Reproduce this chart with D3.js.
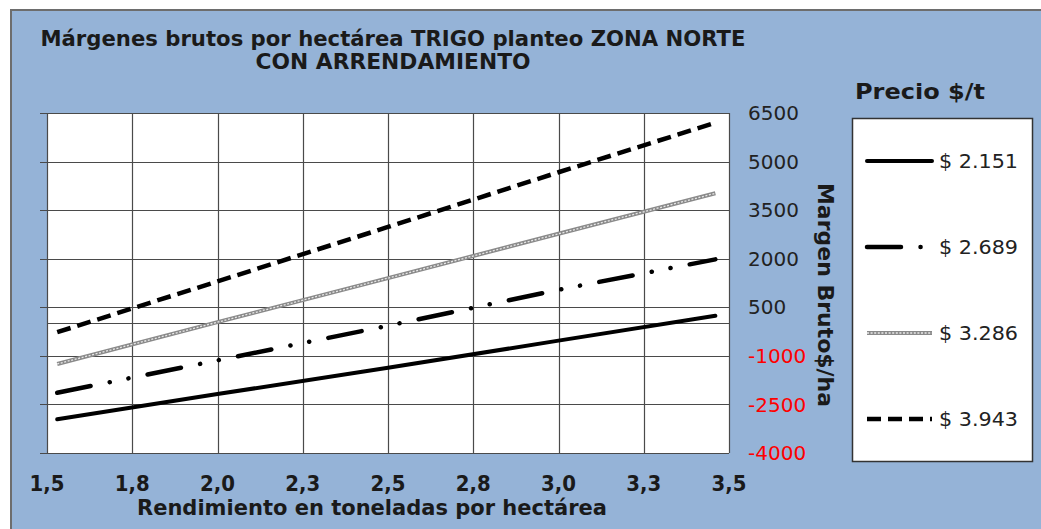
<!DOCTYPE html>
<html lang="es">
<head>
<meta charset="utf-8">
<title>Márgenes brutos TRIGO zona norte</title>
<script src="https://cdn.jsdelivr.net/npm/d3@7/dist/d3.min.js"></script>
<style>
body { margin: 0; background: #fff; }
svg { display: block; }
.bold { font-family: "DejaVu Sans", Verdana, sans-serif; font-weight: bold; fill: #1a1a1a; }
.reg { font-family: "DejaVu Sans", Verdana, sans-serif; fill: #222; }
</style>
</head>
<body>
<div id="chart"></div>
<script>

// rendimiento (t/ha) donde se leyeron los valores
var rendimiento = [1.53, 2.0, 2.5, 3.0, 3.46];

var precios = ["$ 2.151", "$ 2.689", "$ 3.286", "$ 3.943"];

var margen2151 = [-2960, -2180, -1370, -530, 240];
var margen2689 = [-2140, -1140, -70, 1040, 1980];
var margen3286 = [-1250, 40, 1400, 2770, 4020];
var margen3943 = [-270, 1300, 2980, 4670, 6200];

var yTicks = [6500, 5000, 3500, 2000, 500, -1000, -2500, -4000];
var xTicks = [1.5, 1.75, 2.0, 2.25, 2.5, 2.75, 3.0, 3.25, 3.5];
var xTickLabels = ["1,5", "1,8", "2,0", "2,3", "2,5", "2,8", "3,0", "3,3", "3,5"];

var series = [margen2151, margen2689, margen3286, margen3943];

var W = 1041, H = 529;
var plot = {left: 47, right: 729, top: 113, bottom: 453};

var svg = d3.select("#chart").append("svg")
    .attr("width", W)
    .attr("height", H);

// fondo azul con marco
svg.append("rect")
    .attr("x", 11).attr("y", 10)
    .attr("width", W - 10).attr("height", H - 9)
    .attr("fill", "#95b3d7")
    .attr("stroke", "#6d6d6d")
    .attr("stroke-width", 2);

var x = d3.scaleLinear().domain([1.5, 3.5]).range([plot.left, plot.right]);
var y = d3.scaleLinear().domain([-4000, 6500]).range([plot.bottom, plot.top]);

svg.append("rect")
    .attr("x", plot.left).attr("y", plot.top)
    .attr("width", plot.right - plot.left)
    .attr("height", plot.bottom - plot.top)
    .attr("fill", "#fff");

var grid = svg.append("g").attr("stroke", "#4a4a4a").attr("stroke-width", 1.2);

grid.selectAll(".hg")
    .data(yTicks.concat([0]))
    .enter().append("line")
        .attr("x1", function(d) { return d === 0 ? plot.left : plot.left - 7; })
        .attr("x2", plot.right)
        .attr("y1", function(d) { return Math.round(y(d)) + 0.5; })
        .attr("y2", function(d) { return Math.round(y(d)) + 0.5; });

grid.selectAll(".vg")
    .data(xTicks)
    .enter().append("line")
        .attr("x1", function(d) { return Math.round(x(d)) + 0.5; })
        .attr("x2", function(d) { return Math.round(x(d)) + 0.5; })
        .attr("y1", plot.top)
        .attr("y2", plot.bottom);

// etiquetas eje y (derecha)
svg.append("g").selectAll("text")
    .data(yTicks)
    .enter().append("text")
        .attr("class", "reg")
        .attr("x", 748)
        .attr("y", function(d) { return y(d); })
        .attr("dy", "0.36em")
        .style("font-size", "20px")
        .style("fill", function(d) { return d < 0 ? "#ff0000" : "#222"; })
        .text(function(d) { return d; });

// etiquetas eje x
svg.append("g").selectAll("text")
    .data(xTicks)
    .enter().append("text")
        .attr("class", "bold")
        .attr("x", function(d) { return x(d); })
        .attr("y", 491)
        .attr("text-anchor", "middle")
        .style("font-size", "21px")
        .attr("textLength", 35)
        .attr("lengthAdjust", "spacingAndGlyphs")
        .text(function(d, i) { return xTickLabels[i]; });

svg.append("text")
    .attr("class", "bold")
    .attr("x", 372).attr("y", 515)
    .attr("text-anchor", "middle")
    .style("font-size", "21px")
    .attr("textLength", 470)
    .attr("lengthAdjust", "spacingAndGlyphs")
    .text("Rendimiento en toneladas por hectárea");

svg.append("text")
    .attr("class", "bold")
    .attr("transform", "translate(818,295) rotate(90)")
    .attr("text-anchor", "middle")
    .style("font-size", "21px")
    .attr("textLength", 224)
    .attr("lengthAdjust", "spacingAndGlyphs")
    .text("Margen Bruto$/ha");

// titulo
var title = svg.append("text")
    .attr("class", "bold")
    .attr("text-anchor", "middle")
    .style("font-size", "21px");
title.append("tspan").attr("x", 393).attr("y", 46)
    .attr("textLength", 705)
    .attr("lengthAdjust", "spacingAndGlyphs")
    .text("Márgenes brutos por hectárea TRIGO planteo ZONA NORTE");
title.append("tspan").attr("x", 393).attr("y", 69)
    .attr("textLength", 275)
    .attr("lengthAdjust", "spacingAndGlyphs")
    .text("CON ARRENDAMIENTO");

// estilos de linea
function drawStyled(g, path, i) {
    if (i === 0) {
        g.append("path").attr("d", path).attr("fill", "none")
            .attr("stroke", "#000").attr("stroke-width", 4).attr("stroke-linecap", "round");
    } else if (i === 1) {
        g.append("path").attr("d", path).attr("fill", "none")
            .attr("stroke", "#000").attr("stroke-width", 4.5).attr("stroke-linecap", "round")
            .attr("stroke-dasharray", "34,19.5,0.1,19,0.1,19.5");
    } else if (i === 2) {
        g.append("path").attr("d", path).attr("fill", "none")
            .attr("stroke", "#8a8a8a").attr("stroke-width", 4);
        g.append("path").attr("d", path).attr("fill", "none")
            .attr("stroke", "#e8e8e8").attr("stroke-width", 1.3)
            .attr("stroke-dasharray", "2,1.6");
    } else {
        g.append("path").attr("d", path).attr("fill", "none")
            .attr("stroke", "#000").attr("stroke-width", 4.5)
            .attr("stroke-dasharray", "14,7");
    }
}

var line = d3.line()
    .x(function(d, i) { return x(rendimiento[i]); })
    .y(function(d) { return y(d); });

var lines = svg.append("g");
series.forEach(function(s, i) {
    drawStyled(lines, line(s), i);
});

// leyenda
svg.append("text")
    .attr("class", "bold")
    .attr("x", 855).attr("y", 99)
    .style("font-size", "22px")
    .attr("textLength", 130)
    .attr("lengthAdjust", "spacingAndGlyphs")
    .text("Precio $/t");

svg.append("rect")
    .attr("x", 852.5).attr("y", 118.5)
    .attr("width", 180).attr("height", 343)
    .attr("fill", "#fff")
    .attr("stroke", "#333")
    .attr("stroke-width", 1.5);

var legendY = d3.scalePoint().domain(precios).range([161, 419]);

precios.forEach(function(p, i) {
    var ly = legendY(p);
    var lg = svg.append("g");
    drawStyled(lg, d3.line()([[867, ly], [932, ly]]), i);
    lg.append("text")
        .attr("class", "reg")
        .attr("x", 939).attr("y", ly)
        .attr("dy", "0.36em")
        .style("font-size", "20px")
        .attr("textLength", 79)
        .attr("lengthAdjust", "spacingAndGlyphs")
        .text(p);
});

</script>
</body>
</html>
